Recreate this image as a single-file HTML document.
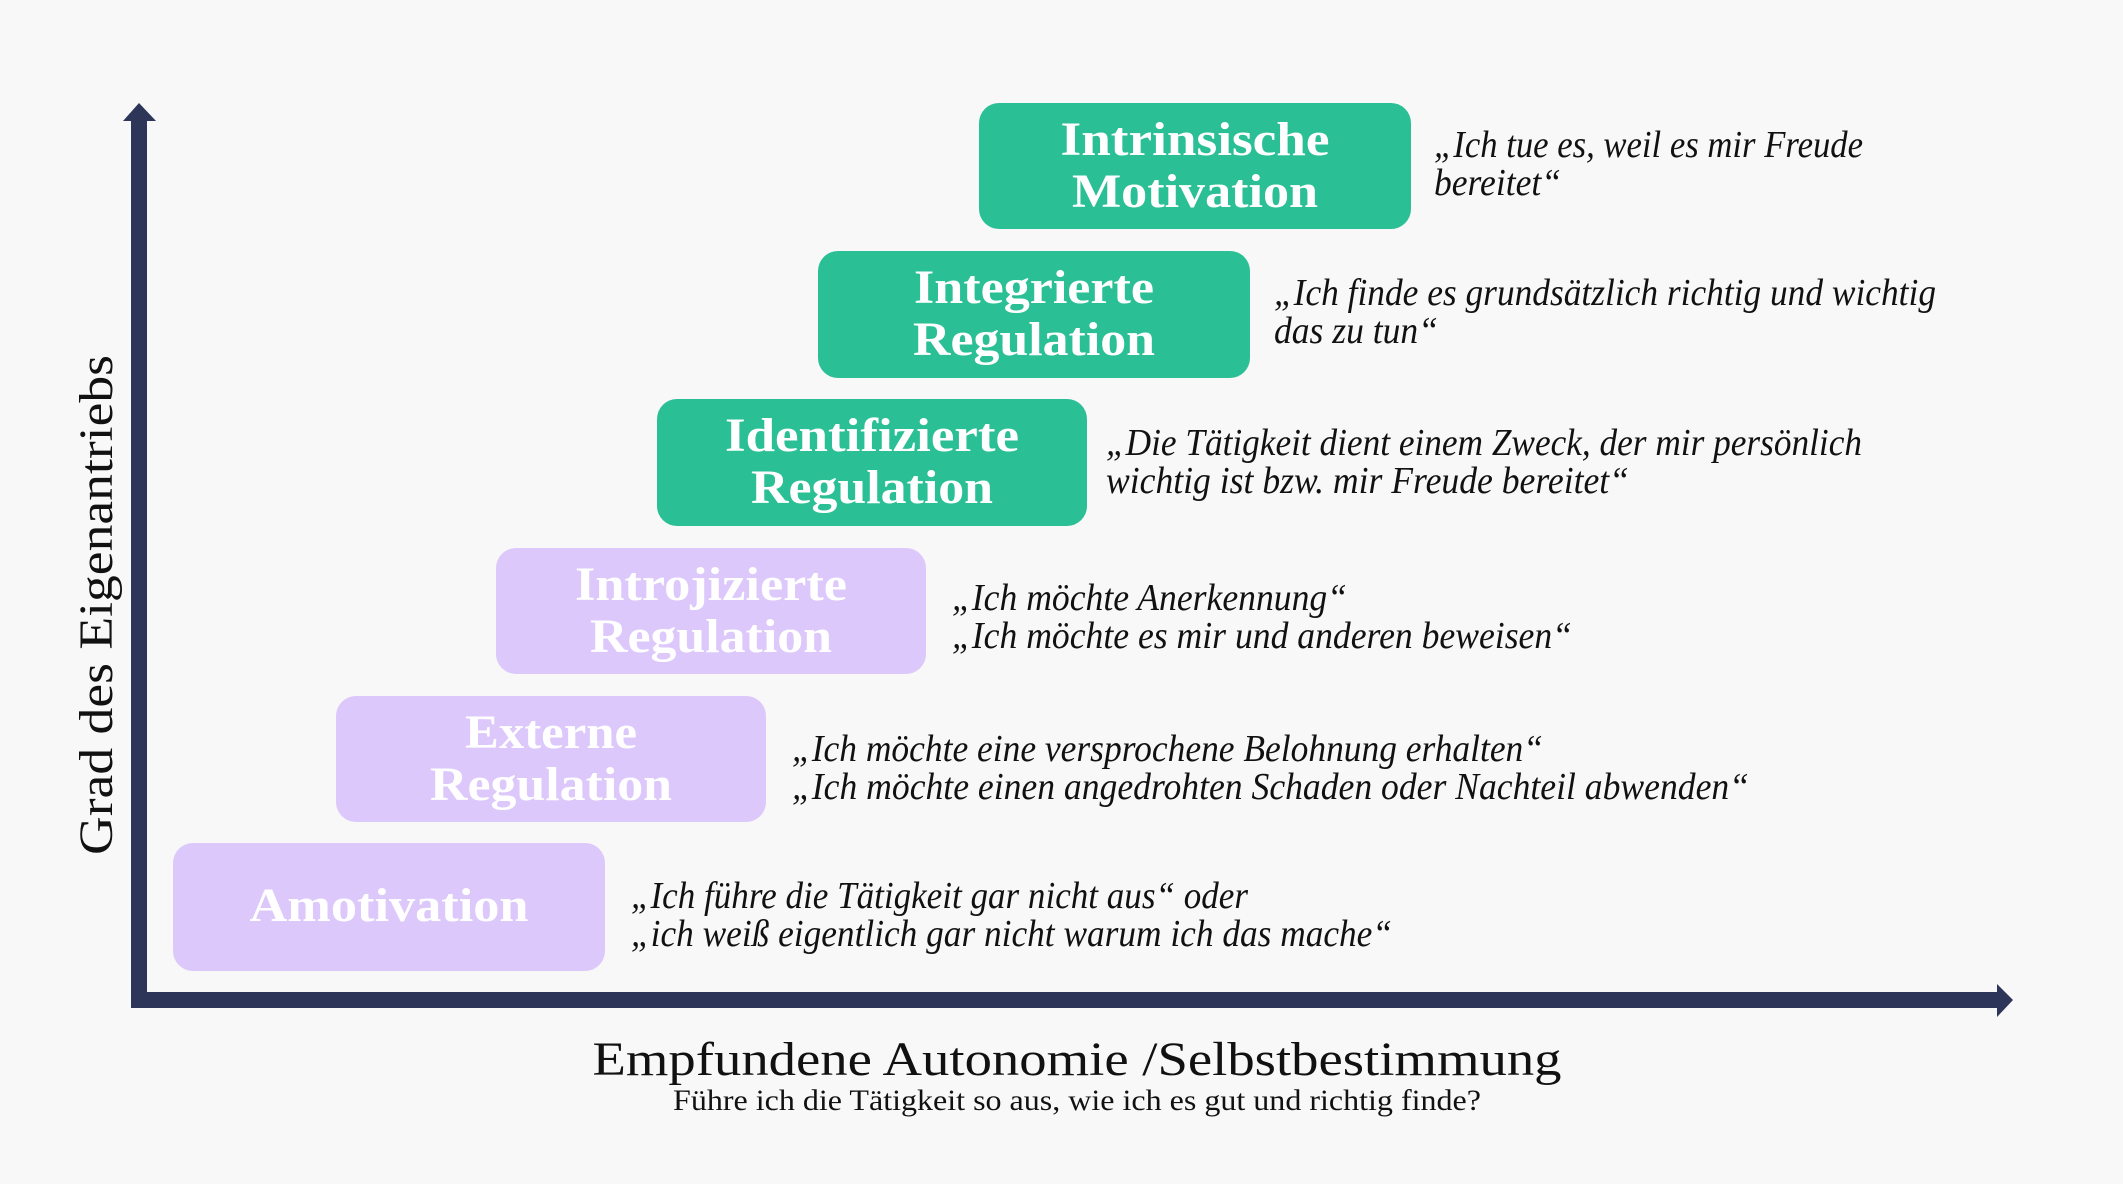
<!DOCTYPE html>
<html><head><meta charset="utf-8"><style>
html,body{margin:0;padding:0;background:#f8f8f8}
svg{display:block}
.t{font-family:"Liberation Serif",serif;font-weight:bold;fill:#fff;font-size:48px}
.q{font-family:"Liberation Serif",serif;font-style:italic;fill:#111;font-size:38px}
</style></head><body>
<svg width="2123" height="1184" viewBox="0 0 2123 1184" xmlns="http://www.w3.org/2000/svg">
<rect width="2123" height="1184" fill="#f8f8f8"/>
<rect x="131" y="118" width="16" height="890" fill="#2d3558"/>
<polygon points="139,103 123,121 156,121" fill="#2d3558"/>
<rect x="131" y="992" width="1868" height="16" fill="#2d3558"/>
<polygon points="2013,1000 1997,984 1997,1017" fill="#2d3558"/>
<rect x="979" y="103" width="432" height="126" rx="20" fill="#2bbf95"/>
<rect x="818" y="251" width="432" height="127" rx="20" fill="#2bbf95"/>
<rect x="657" y="399" width="430" height="127" rx="20" fill="#2bbf95"/>
<rect x="496" y="548" width="430" height="126" rx="20" fill="#dcc8fa"/>
<rect x="336" y="696" width="430" height="126" rx="20" fill="#dcc8fa"/>
<rect x="173" y="843" width="432" height="128" rx="20" fill="#dcc8fa"/>
<g class="t" text-anchor="middle">
<text x="1195" y="155" textLength="269" lengthAdjust="spacingAndGlyphs">Intrinsische</text>
<text x="1195" y="207" textLength="246" lengthAdjust="spacingAndGlyphs">Motivation</text>
<text x="1034" y="303" textLength="240" lengthAdjust="spacingAndGlyphs">Integrierte</text>
<text x="1034" y="355" textLength="242" lengthAdjust="spacingAndGlyphs">Regulation</text>
<text x="872" y="451" textLength="294" lengthAdjust="spacingAndGlyphs">Identifizierte</text>
<text x="872" y="503" textLength="242" lengthAdjust="spacingAndGlyphs">Regulation</text>
<text x="711" y="600" textLength="272" lengthAdjust="spacingAndGlyphs">Introjizierte</text>
<text x="711" y="652" textLength="242" lengthAdjust="spacingAndGlyphs">Regulation</text>
<text x="551" y="748" textLength="172" lengthAdjust="spacingAndGlyphs">Externe</text>
<text x="551" y="800" textLength="242" lengthAdjust="spacingAndGlyphs">Regulation</text>
<text x="389" y="921" textLength="279" lengthAdjust="spacingAndGlyphs">Amotivation</text>
</g>
<g class="q">
<text x="1434" y="157" textLength="429" lengthAdjust="spacingAndGlyphs">„Ich tue es, weil es mir Freude</text>
<text x="1434" y="195" textLength="127" lengthAdjust="spacingAndGlyphs">bereitet“</text>
<text x="1274" y="305" textLength="662" lengthAdjust="spacingAndGlyphs">„Ich finde es grundsätzlich richtig und wichtig</text>
<text x="1274" y="343" textLength="164" lengthAdjust="spacingAndGlyphs">das zu tun“</text>
<text x="1106" y="455" textLength="756" lengthAdjust="spacingAndGlyphs">„Die Tätigkeit dient einem Zweck, der mir persönlich</text>
<text x="1106" y="493" textLength="523" lengthAdjust="spacingAndGlyphs">wichtig ist bzw. mir Freude bereitet“</text>
<text x="952" y="610" textLength="395" lengthAdjust="spacingAndGlyphs">„Ich möchte Anerkennung“</text>
<text x="952" y="648" textLength="620" lengthAdjust="spacingAndGlyphs">„Ich möchte es mir und anderen beweisen“</text>
<text x="792" y="761" textLength="751" lengthAdjust="spacingAndGlyphs">„Ich möchte eine versprochene Belohnung erhalten“</text>
<text x="792" y="799" textLength="957" lengthAdjust="spacingAndGlyphs">„Ich möchte einen angedrohten Schaden oder Nachteil abwenden“</text>
<text x="631" y="908" textLength="617" lengthAdjust="spacingAndGlyphs">„Ich führe die Tätigkeit gar nicht aus“ oder</text>
<text x="631" y="946" textLength="761" lengthAdjust="spacingAndGlyphs">„ich weiß eigentlich gar nicht warum ich das mache“</text>
</g>
<text x="0" y="0" transform="translate(112,605) rotate(-90)" text-anchor="middle" font-family="Liberation Serif, serif" font-size="48" fill="#111" textLength="500" lengthAdjust="spacingAndGlyphs">Grad des Eigenantriebs</text>
<text x="1077" y="1075" text-anchor="middle" font-family="Liberation Serif, serif" font-size="48" fill="#111" textLength="969" lengthAdjust="spacingAndGlyphs">Empfundene Autonomie /Selbstbestimmung</text>
<text x="1077" y="1110" text-anchor="middle" font-family="Liberation Serif, serif" font-size="30" fill="#111" textLength="808" lengthAdjust="spacingAndGlyphs">Führe ich die Tätigkeit so aus, wie ich es gut und richtig finde?</text>
</svg>
</body></html>
